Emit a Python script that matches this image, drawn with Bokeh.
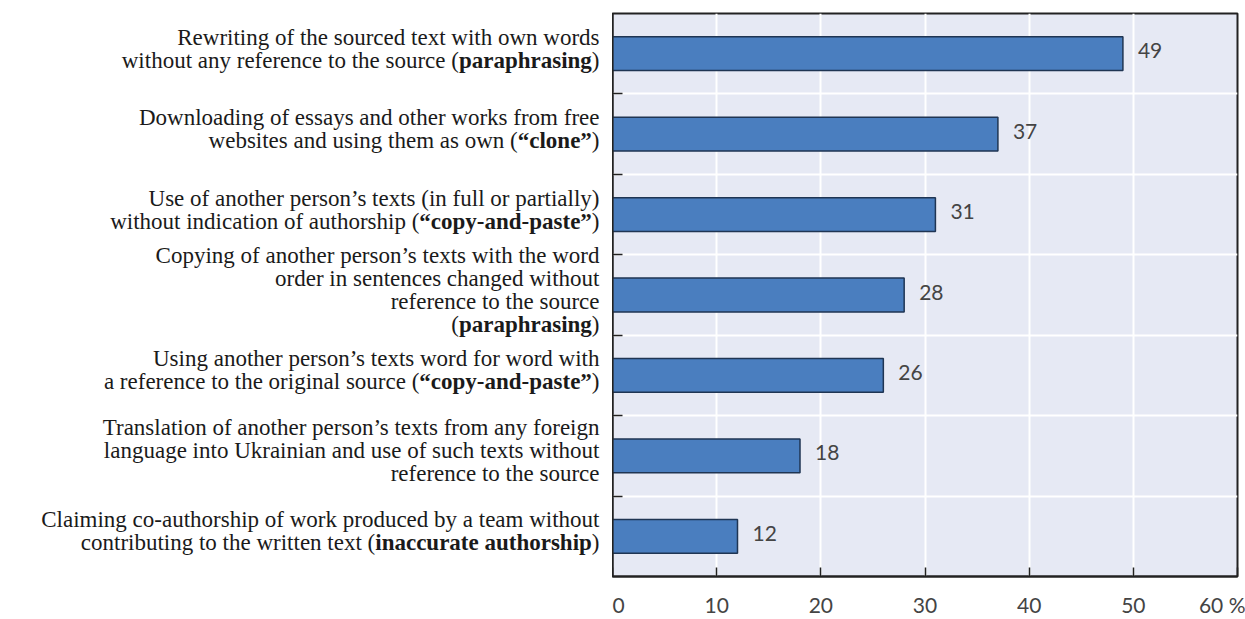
import re
from bokeh.plotting import figure
from bokeh.layouts import row
from bokeh.models import (Range1d, LinearAxis, FixedTicker, Grid, ColumnDataSource, LabelSet)
from bokeh.core.properties import value
from bokeh.embed import file_html
from bokeh.resources import INLINE

# ---------------- data ----------------
labels = [
    ["Rewriting of the sourced text with own words",
     "without any reference to the source (**paraphrasing**)"],
    ["Downloading of essays and other works from free",
     "websites and using them as own (**“clone”**)"],
    ["Use of another person’s texts (in full or partially)",
     "without indication of authorship (**“copy-and-paste”**)"],
    ["Copying of another person’s texts with the word",
     "order in sentences changed without",
     "reference to the source",
     "(**paraphrasing**)"],
    ["Using another person’s texts word for word with",
     "a reference to the original source (**“copy-and-paste”**)"],
    ["Translation of another person’s texts from any foreign",
     "language into Ukrainian and use of such texts without",
     "reference to the source"],
    ["Claiming co-authorship of work produced by a team without",
     "contributing to the written text (**inaccurate authorship**)"],
]
values = [49, 37, 31, 28, 26, 18, 12]
x_ticks = [0, 10, 20, 30, 40, 50, 60]
x_tick_labels = ["0", "10", "20", "30", "40", "50", "60 %"]

# ---------------- styles ----------------
BG = "#e6e9f4"
BAR = "#4a7ebf"
BAR_LINE = "#1f3553"
FRAME = "#222222"
TXT = "#1a1a1a"
NUM = "#444444"
SERIF = "Liberation Serif"
SANS = "Lato"
FS = 23      # label font size (px)
LH = 23      # label line height (px)
GAP = 13     # gap between labels and frame (px)
H = 619
TOP, BOTTOM = 13, 41
LEFT_W = 612
MAIN_W = 1245 - LEFT_W

# Times (Liberation Serif metric-compatible) advance widths per 1000 em
NORMAL_W = {"(": 333, ")": 333, " ": 250}
BOLD_W = {"a": 500, "c": 444, "d": 556, "e": 444, "g": 500, "h": 556, "i": 278,
          "l": 278, "n": 556, "o": 500, "p": 556, "r": 444, "s": 389, "t": 333,
          "u": 556, "y": 500, " ": 250, "-": 333, "“": 500, "”": 500}


def parse(line):
    segs = []
    for part in re.split(r"(\*\*.+?\*\*)", line):
        if not part:
            continue
        if part.startswith("**"):
            segs.append((part[2:-2], "bold"))
        else:
            segs.append((part, "normal"))
    return segs


n = len(values)
ypos = [n - i - 0.5 for i in range(n)]
y_range = Range1d(0, n)

src = ColumnDataSource(dict(y=ypos, value=values, vtext=[str(v) for v in values]))

lab = dict(x=[], y=[], text=[], style=[], xo=[], yo=[])
for i, lines in enumerate(labels):
    k = len(lines)
    for j, line in enumerate(lines):
        yo = -(((k - 1) / 2 - j) * LH + 5)
        off = GAP
        for txt, st in reversed(parse(line)):
            lab["x"].append(1)
            lab["y"].append(ypos[i])
            lab["text"].append(txt)
            lab["style"].append(st)
            lab["xo"].append(-off)
            lab["yo"].append(yo)
            table = BOLD_W if st == "bold" else NORMAL_W
            off += sum(table.get(c, 500) for c in txt) * FS / 1000.0
lab_src = ColumnDataSource(lab)

# ---------------- left: category labels ----------------
pl = figure(width=LEFT_W, height=H, x_range=Range1d(0, 1), y_range=y_range,
            x_axis_type=None, y_axis_type=None, output_backend="svg",
            toolbar_location=None, min_border_left=0, min_border_right=0,
            min_border_top=TOP, min_border_bottom=BOTTOM)
pl.outline_line_color = None
pl.background_fill_color = "white"
pl.border_fill_color = "white"
pl.grid.visible = False
pl.text(x="x", y="y", text="text", source=lab_src, x_offset="xo", y_offset="yo",
        text_align="right", text_baseline="middle", text_font=value(SERIF),
        text_font_size=f"{FS}px", text_font_style="style", text_color=TXT)

# ---------------- right: bars ----------------
p = figure(width=MAIN_W, height=H, x_range=Range1d(0, 60), y_range=y_range,
           x_axis_type=None, y_axis_type=None, output_backend="svg",
           toolbar_location=None, min_border_left=0, min_border_right=8,
           min_border_top=TOP, min_border_bottom=BOTTOM)
p.background_fill_color = BG
p.border_fill_color = "white"
p.outline_line_color = FRAME
p.outline_line_width = 2

xaxis = LinearAxis(ticker=FixedTicker(ticks=x_ticks))
xaxis.major_label_overrides = dict(zip(x_ticks, x_tick_labels))
xaxis.major_tick_in = 9
xaxis.major_tick_out = 0
xaxis.minor_tick_line_color = None
xaxis.major_tick_line_color = FRAME
xaxis.major_tick_line_width = 1.5
xaxis.axis_line_color = FRAME
xaxis.axis_line_width = 2
xaxis.major_label_text_font = SANS
xaxis.major_label_text_font_size = "21px"
xaxis.major_label_text_color = NUM
xaxis.major_label_standoff = 15
p.add_layout(xaxis, "below")

bound_ticks = list(range(1, n))
yaxis = LinearAxis(ticker=FixedTicker(ticks=bound_ticks))
yaxis.major_label_overrides = {t: "" for t in bound_ticks}
yaxis.major_label_text_font_size = "0px"
yaxis.major_label_standoff = 0
yaxis.major_tick_in = 10
yaxis.major_tick_out = 0
yaxis.minor_tick_line_color = None
yaxis.major_tick_line_color = FRAME
yaxis.major_tick_line_width = 1.5
yaxis.axis_line_color = FRAME
yaxis.axis_line_width = 2
p.add_layout(yaxis, "left")

p.add_layout(Grid(dimension=0, ticker=FixedTicker(ticks=x_ticks[1:-1]),
                  grid_line_color="white", grid_line_width=2))
p.add_layout(Grid(dimension=1, ticker=FixedTicker(ticks=bound_ticks),
                  grid_line_color="white", grid_line_width=2))

p.hbar(y="y", left=0, right="value", height=0.42, source=src,
       fill_color=BAR, line_color=BAR_LINE, line_width=1.5)

p.add_layout(LabelSet(x="value", y="y", text="vtext", source=src, x_offset=15, y_offset=3,
                      text_baseline="middle", text_font=value(SANS),
                      text_font_size="21px", text_color=NUM))

layout = row(pl, p, spacing=0)
open("out.html", "w").write(file_html(layout, INLINE))
